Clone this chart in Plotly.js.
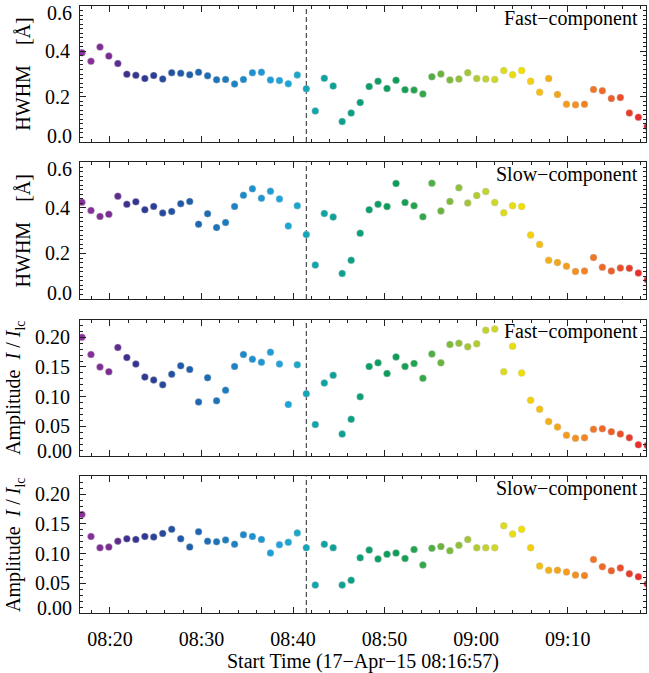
<!DOCTYPE html>
<html><head><meta charset="utf-8">
<script src="https://cdn.plot.ly/plotly-3.0.1.min.js"></script>
<style>html,body{margin:0;padding:0;background:#fff}#chart{width:649px;height:673px}</style>
</head><body><div id="chart"></div>
<script>
// Observation start times (17-Apr-2015)
const startTimes = ["08:16:57","08:17:56","08:18:55","08:19:53","08:20:52","08:21:51","08:22:50","08:23:49","08:24:47","08:25:46",
"08:26:45","08:27:44","08:28:43","08:29:41","08:30:40","08:31:39","08:32:38","08:33:37","08:34:35","08:35:34",
"08:36:33","08:37:32","08:38:31","08:39:29","08:40:28","08:41:27","08:42:26","08:43:25","08:44:23","08:45:22",
"08:46:21","08:47:20","08:48:19","08:49:17","08:50:16","08:51:15","08:52:14","08:53:13","08:54:11","08:55:10",
"08:56:09","08:57:08","08:58:07","08:59:05","09:00:04","09:01:03","09:02:02","09:03:01","09:03:59","09:04:58",
"09:05:57","09:06:56","09:07:55","09:08:53","09:09:52","09:10:51","09:11:50","09:12:49","09:13:47","09:14:46",
"09:15:45","09:16:44","09:17:43","09:18:41"];

const hwhmFast = [0.394,0.356,0.419,0.379,0.346,0.299,0.294,0.280,0.293,0.278,
0.306,0.303,0.297,0.308,0.292,0.275,0.276,0.256,0.276,0.306,
0.308,0.274,0.271,0.257,0.296,0.235,0.137,0.281,0.247,0.090,
0.128,0.174,0.245,0.268,0.236,0.272,0.231,0.229,0.212,0.288,
0.300,0.274,0.278,0.306,0.280,0.278,0.276,0.315,0.297,0.316,
0.268,0.220,0.280,0.210,0.167,0.164,0.167,0.232,0.226,0.192,
0.196,0.128,0.109,0.069];

const hwhmSlow = [0.425,0.389,0.363,0.372,0.452,0.416,0.427,0.392,0.407,0.378,
0.385,0.419,0.429,0.329,0.375,0.314,0.336,0.407,0.456,0.484,
0.443,0.474,0.440,0.321,0.410,0.283,0.149,0.376,0.360,0.112,
0.170,0.289,0.392,0.416,0.406,0.508,0.424,0.410,0.361,0.509,
0.387,0.429,0.489,0.422,0.455,0.472,0.424,0.379,0.410,0.407,
0.281,0.240,0.170,0.160,0.144,0.121,0.123,0.182,0.139,0.123,
0.136,0.135,0.114,0.084];

const ampFast = [0.200,0.171,0.150,0.142,0.183,0.166,0.155,0.133,0.128,0.120,
0.138,0.152,0.146,0.091,0.132,0.093,0.111,0.151,0.171,0.163,
0.158,0.175,0.155,0.087,0.154,0.105,0.053,0.123,0.136,0.037,
0.062,0.100,0.151,0.157,0.139,0.167,0.151,0.156,0.131,0.172,
0.157,0.188,0.190,0.184,0.189,0.212,0.214,0.142,0.185,0.140,
0.094,0.079,0.058,0.049,0.035,0.030,0.031,0.045,0.046,0.041,
0.037,0.031,0.019,0.018];

const ampSlow = [0.166,0.129,0.110,0.111,0.121,0.125,0.124,0.129,0.128,0.134,
0.141,0.125,0.111,0.137,0.121,0.120,0.123,0.116,0.132,0.129,
0.124,0.101,0.115,0.119,0.135,0.110,0.047,0.116,0.110,0.047,
0.055,0.093,0.106,0.091,0.099,0.101,0.092,0.107,0.081,0.109,
0.112,0.105,0.114,0.124,0.110,0.110,0.110,0.147,0.133,0.141,
0.110,0.079,0.072,0.072,0.069,0.064,0.063,0.090,0.078,0.071,
0.076,0.066,0.061,0.049];

const panelLabels = ["Fast\u2212component","Slow\u2212component","Fast\u2212component","Slow\u2212component"];
const yTitles = ["HWHM\u00a0\u00a0\u00a0\u00a0[\u00c5]","HWHM\u00a0\u00a0\u00a0\u00a0[\u00c5]",
  "Amplitude\u00a0\u00a0<i>I</i> / <i>I</i><sub>lc</sub>","Amplitude\u00a0\u00a0<i>I</i> / <i>I</i><sub>lc</sub>"];
// interior tick labels drawn by the axes; edge labels (kept inside the panel) drawn as annotations
const hwhmTicks = [0.2, 0.4];
const hwhmTickText = ["0.2", "0.4"];
const hwhmEdgeTicks = [0, 0.6];
const hwhmEdgeText = ["0.0", "0.6"];
const ampTicks = [0.05, 0.10, 0.15, 0.20];
const ampTickText = ["0.05", "0.10", "0.15", "0.20"];
const ampEdgeTicks = [0];
const ampEdgeText = ["0.00"];
const xTitle = "Start Time (17\u2212Apr\u221215 08:16:57)";
const obsDate = "2015-04-17 ";
const eventTime = "08:41:27";

const FONT = '"Liberation Serif","Times New Roman",Times,serif';
const INK = '#222';
const x = startTimes.map(t => obsDate + t);
const colorIndex = x.map((_, i) => i);
const rainbow = [
 [0.00,'#8a2f9c'],[0.05,'#7a2c92'],[0.065,'#5a2d8e'],[0.08,'#3b2f8e'],[0.12,'#2c3c95'],
 [0.17,'#1f57a6'],[0.24,'#1c74ba'],[0.30,'#1c90cf'],[0.35,'#1ea3dc'],[0.38,'#17a7cc'],
 [0.40,'#12a5b4'],[0.43,'#0da3a0'],[0.47,'#0aa08a'],[0.51,'#0a9e66'],[0.56,'#0c9c55'],
 [0.60,'#2ca64b'],[0.635,'#6ab43c'],[0.68,'#a0c43a'],[0.72,'#c7d430'],[0.75,'#e0dc1a'],
 [0.78,'#f2df00'],[0.80,'#f3c90f'],[0.83,'#f3ab18'],[0.86,'#f39a1e'],[0.90,'#f07a25'],
 [0.94,'#ec5a28'],[0.97,'#e83a2b'],[1.00,'#e8202a']];

const series = [hwhmFast, hwhmSlow, ampFast, ampSlow];
const domains = [[0.7759,1],[0.5173,0.7422],[0.2586,0.4835],[0,0.2249]];

const data = series.map((ys, k) => ({
  type: 'scatter', mode: 'markers', x: x, y: ys,
  xaxis: k === 0 ? 'x' : 'x' + (k + 1), yaxis: k === 0 ? 'y' : 'y' + (k + 1),
  cliponaxis: true, showlegend: false, hoverinfo: 'skip',
  marker: {size: 7, color: colorIndex, cmin: 0, cmax: colorIndex.length - 1, colorscale: rainbow,
           line: {width: 0.5, color: 'rgba(200,200,200,0.8)'}}
}));

const layout = {
  width: 649, height: 673,
  margin: {l: 80, r: 3, t: 6, b: 60},
  paper_bgcolor: '#fff', plot_bgcolor: '#fff',
  font: {family: FONT, size: 20, color: '#000'},
  showlegend: false, shapes: [], annotations: []
};

for (let k = 0; k < 4; k++) {
  const xs = k === 0 ? '' : String(k + 1);
  const isAmp = k >= 2;
  const xa = {
    type: 'date', anchor: 'y' + xs,
    range: [obsDate + '08:16:44', obsDate + '09:18:33'],
    tick0: obsDate + '08:00:00', dtick: 600000, tickformat: '%H:%M',
    ticks: 'inside', ticklen: 6, tickwidth: 1, tickcolor: INK,
    showline: true, linecolor: INK, linewidth: 1, mirror: 'allticks',
    showgrid: false, zeroline: false,
    minor: {tick0: obsDate + '08:00:00', dtick: 120000, ticks: 'inside', ticklen: 3, tickcolor: INK, showgrid: false},
    showticklabels: k === 3, tickfont: {family: FONT, size: 20, color: '#000'},
    ticklabelstandoff: 8
  };
  if (k > 0) xa.matches = 'x';
  if (k === 3) xa.title = {text: xTitle, font: {family: FONT, size: 20, color: '#000'}, standoff: 6};
  layout['xaxis' + xs] = xa;

  layout['yaxis' + xs] = {
    anchor: 'x' + xs, domain: domains[k],
    range: isAmp ? [0, 0.23] : [0, 0.6],
    tickmode: 'array',
    tickvals: isAmp ? ampTicks : hwhmTicks,
    ticktext: isAmp ? ampTickText : hwhmTickText,
    ticks: 'inside', ticklen: 6, tickwidth: 1, tickcolor: INK,
    showline: true, linecolor: INK, linewidth: 1, mirror: 'allticks',
    showgrid: false, zeroline: false,
    minor: {tickmode: 'linear', tick0: 0, dtick: isAmp ? 0.01 : 0.02, ticks: 'inside', ticklen: 3, tickcolor: INK, showgrid: false},
    tickfont: {family: FONT, size: 20, color: '#000'},
    ticklabelstandoff: 5,
    title: {text: yTitles[k], font: {family: FONT, size: 20, color: '#000'}, standoff: 8}
  };

  layout.shapes.push({
    type: 'line', xref: 'x' + xs, yref: 'y' + xs + ' domain',
    x0: obsDate + eventTime, x1: obsDate + eventTime, y0: 0, y1: 1,
    layer: 'below', line: {color: INK, width: 1, dash: '5px,3px'}
  });

  layout.annotations.push({
    xref: 'x' + xs + ' domain', yref: 'y' + xs + ' domain', x: 1, y: 1,
    xanchor: 'right', yanchor: 'middle', xshift: -6, yshift: -12,
    text: panelLabels[k], showarrow: false,
    font: {family: FONT, size: 20, color: '#000'}
  });

  // edge tick labels, kept inside the panel height as in the original
  const edgeVals = isAmp ? ampEdgeTicks : hwhmEdgeTicks;
  const edgeText = isAmp ? ampEdgeText : hwhmEdgeText;
  edgeVals.forEach((v, j) => {
    const atBottom = v === 0;
    layout.annotations.push({
      xref: 'paper', yref: 'y' + xs, x: 0, y: v, xanchor: 'right', yanchor: 'middle',
      xshift: -6, yshift: atBottom ? (isAmp ? 5 : 6) : -7, text: edgeText[j], showarrow: false,
      font: {family: FONT, size: 20, color: '#000'}
    });
  });
}

Plotly.newPlot('chart', data, layout, {staticPlot: true, displayModeBar: false});
</script>
</body></html>
